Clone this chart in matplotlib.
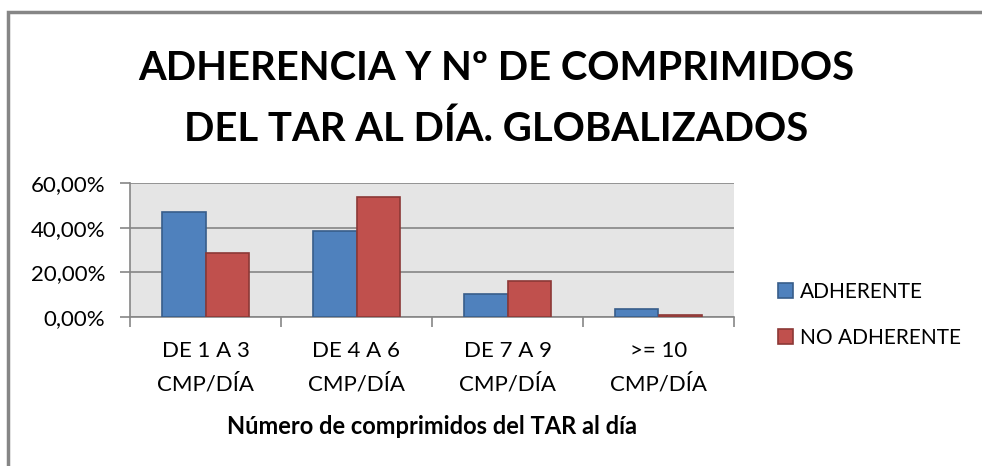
import matplotlib.pyplot as plt
import numpy as np
from matplotlib.patches import Rectangle

categories = ['DE 1 A 3\nCMP/DÍA', 'DE 4 A 6\nCMP/DÍA', 'DE 7 A 9\nCMP/DÍA', '>= 10\nCMP/DÍA']
adherente = [47.2, 38.7, 10.1, 3.5]
no_adherente = [28.8, 53.7, 16.0, 1.0]
yticks = [0, 20, 40, 60]
ytick_labels = ['0,00%', '20,00%', '40,00%', '60,00%']

plt.rcParams['font.family'] = ['Lato', 'DejaVu Sans']

W, H = 982, 466
fig = plt.figure(figsize=(W / 100, H / 100), dpi=100)

# outer chart frame (only top/left visible in the crop)
fig.patches.append(Rectangle((8 / W, -0.1), 1.2, 1 - 12 / H + 0.1, transform=fig.transFigure,
                             fill=False, edgecolor='#868686', linewidth=2.5))

ax = fig.add_axes([130 / W, 1 - 317 / H, (734 - 130) / W, (317 - 183) / H])
ax.set_facecolor('#E5E5E5')

x = np.arange(len(categories))
w = 0.288
ax.bar(x - w / 2, adherente, width=w, color='#4F81BD', edgecolor='#385D8A', linewidth=1.2,
       label='ADHERENTE', zorder=3)
ax.bar(x + w / 2, no_adherente, width=w, color='#C0504D', edgecolor='#8C3836', linewidth=1.2,
       label='NO ADHERENTE', zorder=3)

ax.set_xlim(-0.5, len(categories) - 0.5)
ax.set_ylim(0, 60)
ax.set_yticks(yticks)
ax.set_yticklabels(ytick_labels, fontsize=16)
ax.set_xticks(x)
ax.set_xticklabels(categories, fontsize=16, linespacing=1.8)
ax.set_xticks(np.arange(len(categories) + 1) - 0.5, minor=True)
ax.tick_params(axis='x', which='major', length=0, pad=17)
ax.tick_params(axis='x', which='minor', length=7, color='#868686', width=1.2)
ax.tick_params(axis='y', length=7, color='#868686', width=1.2, pad=11)
ax.yaxis.grid(True, color='#868686', linewidth=1.2, zorder=0)
ax.set_axisbelow(True)
for s in ['top', 'right']:
    ax.spines[s].set_visible(False)
for s in ['left', 'bottom']:
    ax.spines[s].set_color('#868686')
    ax.spines[s].set_linewidth(1.2)

ax.set_xlabel('Número de comprimidos del TAR al día', fontsize=17, fontweight='bold', labelpad=15)

fig.text(496 / W, 1 - 99 / H, 'ADHERENCIA Y Nº DE COMPRIMIDOS\nDEL TAR AL DÍA. GLOBALIZADOS',
         ha='center', va='center', fontsize=28.8, fontweight='bold', linespacing=1.8)

fig.legend(loc='center left', bbox_to_anchor=(759 / W, 1 - 315 / H), frameon=False,
           fontsize=15, handlelength=0.72, handleheight=0.72, handletextpad=0.35, labelspacing=1.25)

fig.savefig('out.png', dpi=100)
